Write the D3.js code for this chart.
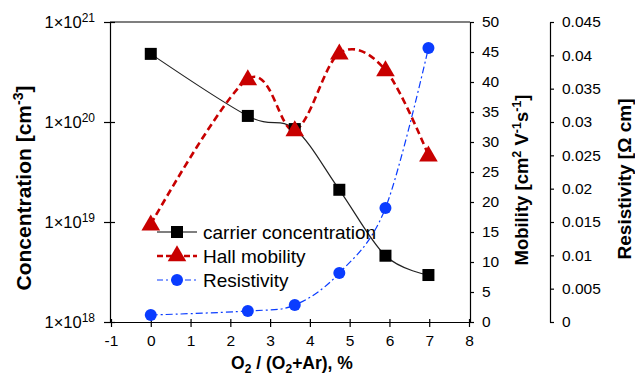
<!DOCTYPE html>
<html><head><meta charset="utf-8">
<script src="https://cdn.jsdelivr.net/npm/d3@7"></script>
<style>body{margin:0;background:#fff}svg{display:block;font-family:"Liberation Sans",Arial,sans-serif}</style>
</head><body><svg id="c" width="635" height="375"></svg>
<script>
const xValues = [0, 2.44, 3.62, 4.74, 5.9, 6.98];
const concentration = [4.8e20, 1.15e20, 8.5e19, 2.1e19, 4.6e18, 2.95e18];
const mobility = [16.3, 40.5, 32.0, 44.8, 42.0, 27.8];
const resistivity = [0.00105, 0.00165, 0.00255, 0.00735, 0.0171, 0.0411];
const xTicks = [-1,0,1,2,3,4,5,6,7,8];
const xTickLabels = ["-1","0","1","2","3","4","5","6","7","8"];
const concTicks = [1e18,1e19,1e20,1e21];
const concTickExp = ["18","19","20","21"];
const mobTicks = [0,5,10,15,20,25,30,35,40,45,50];
const resTicks = [0,0.005,0.01,0.015,0.02,0.025,0.03,0.035,0.04,0.045];
const resTickLabels = ["0","0.005","0.01","0.015","0.02","0.025","0.03","0.035","0.04","0.045"];
const legendLabels = ["carrier concentration","Hall mobility","Resistivity"];

const svg = d3.select("#c");
const L=110, R=470, T=22, B=322, R2=550;
const x = d3.scaleLinear().domain([-1,8]).range([L+1,R-1]);
const yC = d3.scaleLog().domain([1e18,1e21]).range([B,T]);
const yM = d3.scaleLinear().domain([0,50]).range([B,T]);
const yR = d3.scaleLinear().domain([0,0.045]).range([B,T]);
const red="#C80000", blue="#0A3CFF";

// top frame line
svg.append("line").attr("x1",L).attr("x2",R).attr("y1",T).attr("y2",T).attr("stroke","#000").attr("stroke-width",1.2);

// x axis
const gx = svg.append("g").attr("transform",`translate(0,${B})`)
  .call(d3.axisBottom(x).tickValues(xTicks).tickSize(5).tickSizeOuter(0).tickFormat((d,i)=>xTickLabels[i]));
gx.selectAll(".tick line").attr("y1",-3);
// left axis
const gl = svg.append("g").attr("transform",`translate(${L},0)`)
  .call(d3.axisLeft(yC).tickValues(concTicks).tickSize(6).tickSizeOuter(0).tickFormat(""));
gl.selectAll(".tick line").attr("x1",5);
// mobility axis
const gm = svg.append("g").attr("transform",`translate(${R},0)`)
  .call(d3.axisRight(yM).tickValues(mobTicks).tickSize(4).tickSizeOuter(0).tickPadding(8));
// resistivity axis
const gr = svg.append("g").attr("transform",`translate(${R2},0)`)
  .call(d3.axisRight(yR).tickValues(resTicks).tickSize(4).tickSizeOuter(0).tickPadding(8).tickFormat((d,i)=>resTickLabels[i]));
[gx,gl,gm,gr].forEach(g=>{
  g.selectAll("path,line").attr("stroke","#000").attr("stroke-width",1.2);
  g.selectAll("text").attr("font-size",15.5).attr("fill","#000").attr("font-family","Liberation Sans, Arial, sans-serif");
});
gx.selectAll("text").attr("dy","1.0em");
// log labels 1×10^n
concTicks.forEach((v,i)=>{
  const t = svg.append("text").attr("x",L-15).attr("y",yC(v)+6).attr("text-anchor","end")
    .attr("font-size",16.5).attr("fill","#000");
  t.append("tspan").text("1×10");
  t.append("tspan").attr("font-size",12).attr("dy",-6).text(concTickExp[i]);
});

const line = (sx,sy)=>d3.line().x((d,i)=>x(xValues[i])).y(d=>sy(d)).curve(d3.curveCardinal.tension(0));

// series
svg.append("path").datum(resistivity).attr("d",line(x,yR)).attr("fill","none")
  .attr("stroke",blue).attr("stroke-width",1.2).attr("stroke-dasharray","7,3,2,3");
svg.append("path").datum(concentration).attr("d",line(x,yC)).attr("fill","none")
  .attr("stroke","#222").attr("stroke-width",1.2);
svg.append("path").datum(mobility).attr("d",line(x,yM)).attr("fill","none")
  .attr("stroke",red).attr("stroke-width",2.6).attr("stroke-dasharray","7,4");

const tri = d3.symbol().type(d3.symbolTriangle).size(150);
function sq(g,cx,cy){g.append("rect").attr("x",cx-6).attr("y",cy-6).attr("width",12).attr("height",12).attr("fill","#000");}
function trm(g,cx,cy){g.append("path").attr("d",tri()).attr("transform",`translate(${cx},${cy+1})`).attr("fill",red);}
function circ(g,cx,cy){g.append("circle").attr("cx",cx).attr("cy",cy).attr("r",6).attr("fill",blue);}
const gmk = svg.append("g");
resistivity.forEach((v,i)=>circ(gmk,x(xValues[i]),yR(v)));
concentration.forEach((v,i)=>sq(gmk,x(xValues[i]),yC(v)));
mobility.forEach((v,i)=>trm(gmk,x(xValues[i]),yM(v)));

// legend
const lg = svg.append("g");
const rows=[232,256,280];
lg.append("line").attr("x1",157).attr("x2",197).attr("y1",rows[0]).attr("y2",rows[0]).attr("stroke","#000").attr("stroke-width",1.2);
sq(lg,177,rows[0]);
lg.append("line").attr("x1",157).attr("x2",197).attr("y1",rows[1]).attr("y2",rows[1]).attr("stroke",red).attr("stroke-width",2.6).attr("stroke-dasharray","6,3");
trm(lg,177,rows[1]-1);
lg.append("line").attr("x1",157).attr("x2",197).attr("y1",rows[2]).attr("y2",rows[2]).attr("stroke",blue).attr("stroke-width",1.2).attr("stroke-dasharray","6,3,2,3");
circ(lg,177,rows[2]);
legendLabels.forEach((s,i)=>lg.append("text").attr("x",203).attr("y",rows[i]+7).attr("font-size",19).attr("fill","#000").text(s));

// axis titles
const tx = svg.append("text").attr("x",292).attr("y",369).attr("text-anchor","middle").attr("font-size",17.5).attr("font-weight","bold");
tx.append("tspan").text("O");
tx.append("tspan").attr("font-size",12).attr("dy",4).text("2");
tx.append("tspan").attr("dy",-4).text(" / (O");
tx.append("tspan").attr("font-size",12).attr("dy",4).text("2");
tx.append("tspan").attr("dy",-4).text("+Ar),  %");

const ty = svg.append("text").attr("transform","translate(31,188) rotate(-90)").attr("text-anchor","middle").attr("font-size",21).attr("font-weight","bold");
ty.append("tspan").text("Concentration [cm");
ty.append("tspan").attr("font-size",14).attr("dy",-8).text("-3");
ty.append("tspan").attr("dy",8).text("]");

const tm = svg.append("text").attr("transform","translate(528,180) rotate(-90)").attr("text-anchor","middle").attr("font-size",18.5).attr("font-weight","bold");
tm.append("tspan").text("Mobility  [cm");
tm.append("tspan").attr("font-size",12.5).attr("dy",-7).text("2");
tm.append("tspan").attr("dy",7).text(" V");
tm.append("tspan").attr("font-size",12.5).attr("dy",-7).text("-1");
tm.append("tspan").attr("dy",7).text("s");
tm.append("tspan").attr("font-size",12.5).attr("dy",-7).text("-1");
tm.append("tspan").attr("dy",7).text("]");

svg.append("text").attr("transform","translate(631,179) rotate(-90)").attr("text-anchor","middle").attr("font-size",19).attr("font-weight","bold").text("Resistivity  [Ω cm]");
</script></body></html>
